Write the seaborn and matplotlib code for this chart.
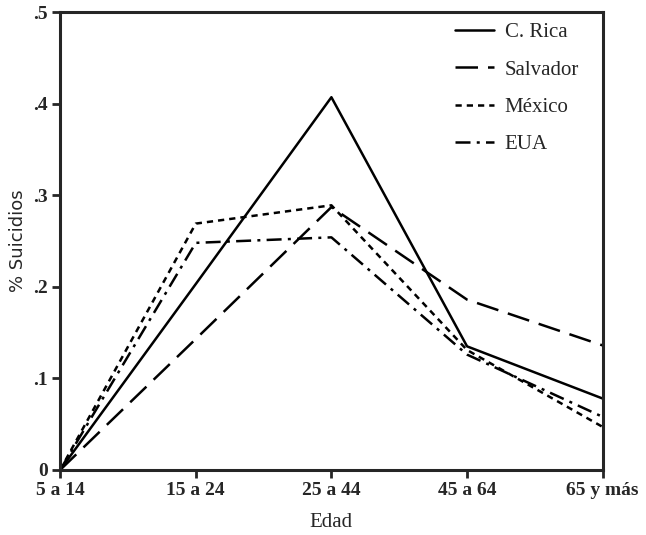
import matplotlib
matplotlib.use('Agg')
import matplotlib.pyplot as plt
import pandas as pd
import seaborn as sns

# data
edades = ['5 a 14', '15 a 24', '25 a 44', '45 a 64', '65 y más']
crica = [0.0, 0.203, 0.407, 0.135, 0.078]
salvador = [0.0, 0.143, 0.287, 0.186, 0.136]
mexico = [0.0, 0.269, 0.289, 0.131, 0.047]
eua = [0.0, 0.248, 0.254, 0.126, 0.058]
paises = ['C. Rica', 'Salvador', 'México', 'EUA']

df = pd.DataFrame({
    'Edad': edades * 4,
    'x': list(range(len(edades))) * 4,
    'valor': crica + salvador + mexico + eua,
    'pais': [p for p in paises for _ in edades],
})

sns.set_style('ticks')
plt.rcParams['font.family'] = ['Liberation Serif', 'DejaVu Serif']

fig = plt.figure(figsize=(6.46, 5.35), dpi=100)
ax = fig.add_axes([0.093, 0.1215, 0.84, 0.856])

estilos = {
    'C. Rica': '',
    'Salvador': (9, 4),
    'México': (2.5, 2),
    'EUA': (6, 2.5, 1.2, 2.5),
}
sns.lineplot(data=df, x='x', y='valor', style='pais', dashes=estilos,
             color='black', linewidth=1.8, ax=ax, legend=True)

ax.set_xlim(0, 4)
ax.set_ylim(0, 0.5)
ax.set_xticks(range(len(edades)))
ax.set_xticklabels(edades, fontsize=14, fontweight='bold')
ax.set_yticks([0, 0.1, 0.2, 0.3, 0.4, 0.5])
ax.set_yticklabels(['0', '.1', '.2', '.3', '.4', '.5'], fontsize=14, fontweight='bold')
ax.set_xlabel('Edad', fontsize=15, labelpad=10)
ax.set_ylabel('% Suicidios', fontsize=13, family='DejaVu Sans', labelpad=4)
ax.tick_params(direction='out', length=6, width=2, pad=3)
for s in ax.spines.values():
    s.set_linewidth(2.2)
    s.set_visible(True)

leg = ax.legend(frameon=False, loc='upper right', handlelength=1.9,
                handletextpad=0.5, labelspacing=0.85, fontsize=15,
                borderaxespad=0.0, bbox_to_anchor=(0.972, 0.995))
for h in leg.get_lines():
    h.set_linewidth(1.8)

fig.savefig('out.png', dpi=100)
